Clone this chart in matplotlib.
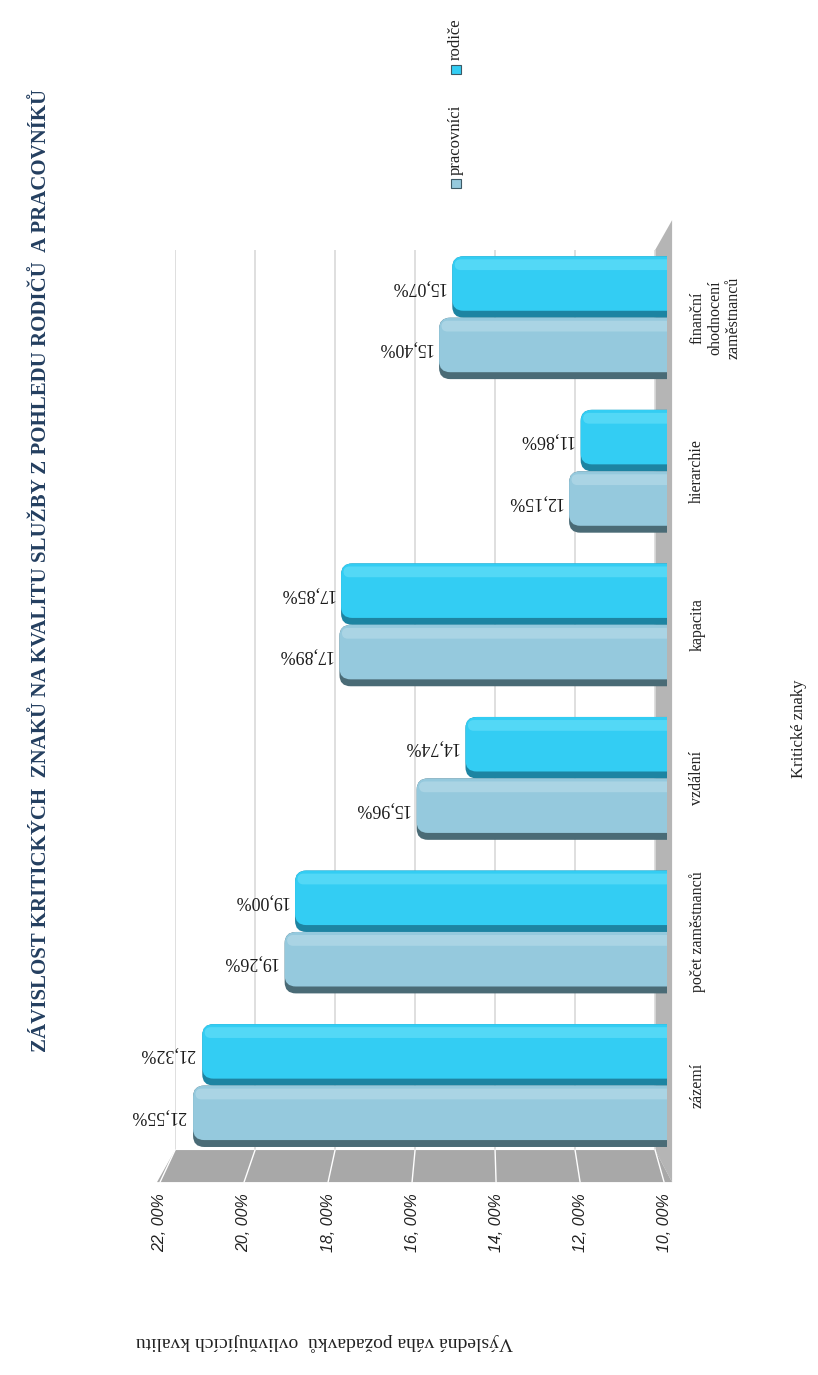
import matplotlib.pyplot as plt
from matplotlib.patches import Polygon, FancyBboxPatch

# Kritické znaky a výsledné váhy (v %)
categories = ["zázemí", "počet zaměstnanců", "vzdálení", "kapacita", "hierarchie",
              "finanční\nohodnocení\nzaměstnanců"]
pracovnici = [21.55, 19.26, 15.96, 17.89, 12.15, 15.40]
rodice = [21.32, 19.00, 14.74, 17.85, 11.86, 15.07]
series_names = ["pracovníci", "rodiče"]
ticks = [10, 12, 14, 16, 18, 20, 22]

title = "ZÁVISLOST KRITICKÝCH  ZNAKŮ NA KVALITU SLUŽBY Z POHLEDU RODIČŮ  A PRACOVNÍKŮ"
value_title = "Výsledná váha požadavků  ovlivňujících kvalitu"
cat_title = "Kritické znaky"

light, light_dark, light_hi = "#95c9dd", "#4a6b76", "#b3dae8"
cyan, cyan_dark, cyan_hi = "#33cdf3", "#1d84a2", "#62ddf8"

serif = ["Liberation Serif", "DejaVu Serif"]
base = 9.7

fig = plt.figure(figsize=(8.18, 13.75), dpi=100)
ax = fig.add_axes([0.214, 0.1636, 0.6015, 0.6545])
ax.set_xlim(22, base)
ax.set_ylim(-0.42, 5.44)

# zadní stěna s mřížkou
ax.set_xticks(ticks)
ax.grid(axis="x", color="#d9d9d9", linewidth=1.2)
ax.set_axisbelow(True)
ax.tick_params(length=0, labelbottom=False, labelleft=False)
ax.set_yticks([])
for s in ax.spines.values():
    s.set_visible(False)

# podlaha a boční pás (pseudo 3D)
wall = Polygon([(0.9756, 1.0), (1.0102, 1.0333), (1.0102, -0.0356), (0.9756, 0.0)],
               closed=True, transform=ax.transAxes, clip_on=False,
               facecolor="#b5b5b5", edgecolor="none", zorder=0)
ax.add_patch(wall)
floor = Polygon([(0.0, 0.0), (0.9756, 0.0), (1.0102, -0.0356), (-0.0366, -0.0356)],
                closed=True, transform=ax.transAxes, clip_on=False,
                facecolor="#a8a8a8", edgecolor="none", zorder=1)
ax.add_patch(floor)


def front_x(v):
    return (160 + (22 - v) * 42 - 175) / 492


def back_x(v):
    return (22 - v) / (22 - base)


for t in ticks:
    ax.plot([back_x(t), front_x(t)], [0.0, -0.0356], color="white", lw=1,
            transform=ax.transAxes, clip_on=False, zorder=2)
    ax.text(front_x(t), -0.048, f"{t:.2f}".replace(".", ", ") + "%",
            transform=ax.transAxes, rotation=90, ha="center", va="top",
            fontsize=11.5, style="italic", family="Liberation Sans", color="#222222")

# poměr px na jednotku dat (pro zaoblení konců)
aspect = 40.0 / 153.4


def rounded_bar(v, y0, height, color, z, rnd=0.28, alpha=1.0):
    # pravý konec sahá za okraj os, takže zaoblení je vidět jen vlevo
    x0 = base - 0.4
    p = FancyBboxPatch((x0, y0), v - x0, height,
                       boxstyle=f"round,pad=0,rounding_size={rnd}",
                       mutation_aspect=aspect, facecolor=color, edgecolor="none",
                       alpha=alpha, zorder=z)
    ax.add_patch(p)


# sloupce
h = 0.40
for i in range(len(categories)):
    for v, y, c, cd, ch in [(pracovnici[i], i - 0.2, light, light_dark, light_hi),
                            (rodice[i], i + 0.2, cyan, cyan_dark, cyan_hi)]:
        rounded_bar(v, y - h / 2, h, cd, 3)
        rounded_bar(v, y - h / 2 + 0.045, h - 0.045, c, 4)
        rounded_bar(v - 0.06, y + h / 2 - 0.09, 0.07, ch, 5, rnd=0.15, alpha=0.7)
        ax.annotate(f"{v:.2f}".replace(".", ",") + "%", (v, y), xytext=(-5, 0),
                    textcoords="offset points", rotation=180, ha="right", va="center",
                    fontsize=13, family=serif, color="#1a1a1a")

# popisky kategorií
for i, name in enumerate(categories):
    ax.text(1.045, i, name, transform=ax.get_yaxis_transform(), rotation=90,
            ha="left", va="center", fontsize=11.5, family=serif,
            multialignment="center", color="#222222", clip_on=False)

# názvy os a grafu
fig.text(0.977, 0.47, cat_title, rotation=90, ha="center", va="center",
         fontsize=12, family=serif, color="#222222")
fig.text(0.397, 0.024, value_title, rotation=180, ha="center", va="center",
         fontsize=14, family=serif, color="#222222")
fig.text(0.05, 0.585, title, rotation=90, ha="center", va="center",
         fontsize=15, fontweight="bold", family=serif, color="#243f60")

# legenda
for name, c, ypos in [(series_names[0], light, 0.868), (series_names[1], cyan, 0.951)]:
    fig.patches.append(plt.Rectangle((0.551, ypos - 0.005), 0.012, 0.007,
                                     transform=fig.transFigure, facecolor=c,
                                     edgecolor="#3d5a66", lw=0.8))
    fig.text(0.557, ypos + 0.005, name, rotation=90, ha="center", va="bottom",
             fontsize=12, family=serif, color="#222222")

fig.savefig("out.png", dpi=100, facecolor="white")
